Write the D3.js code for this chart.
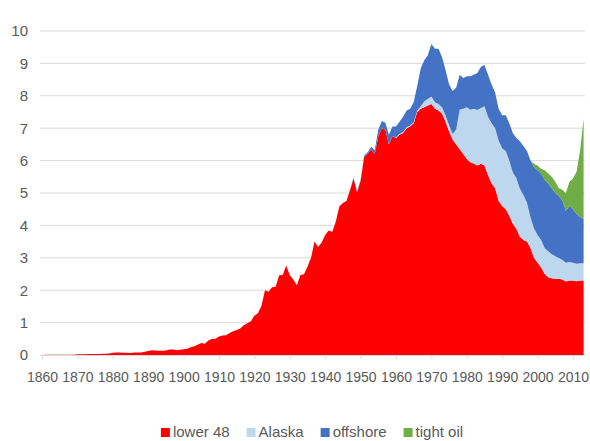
<!DOCTYPE html>
<meta charset="utf-8">
<body style="margin:0;background-color:white;">
<svg width="590" height="441"></svg>
<script src="https://cdn.jsdelivr.net/npm/d3@7"></script>
<script>

// US crude oil production by region, million barrels per day
var firstYear = 1860, lastYear = 2013;

var lower48 = [
  0.00,0.01,0.01,0.01,0.01,0.01,0.01,0.01,0.01,0.01,   // 1860s
  0.02,0.02,0.02,0.03,0.03,0.03,0.03,0.04,0.04,0.05,   // 1870s
  0.07,0.08,0.08,0.07,0.07,0.06,0.08,0.08,0.08,0.10,
  0.12,0.15,0.14,0.13,0.13,0.14,0.17,0.17,0.15,0.16,
  0.18,0.19,0.24,0.27,0.32,0.37,0.35,0.45,0.49,0.50,   // 1900s
  0.57,0.60,0.61,0.68,0.73,0.77,0.82,0.92,0.98,1.04,
  1.21,1.29,1.52,2.00,1.95,2.09,2.11,2.46,2.47,2.76,
  2.46,2.33,2.15,2.47,2.49,2.72,3.00,3.50,3.33,3.47,
  3.70,3.84,3.80,4.12,4.58,4.69,4.75,5.08,5.45,5.02,   // 1940s
  5.37,6.10,6.20,6.35,6.20,6.75,7.00,6.95,6.50,6.75,
  6.70,6.80,6.85,7.00,7.05,7.15,7.50,7.60,7.65,7.70,
  7.75,7.60,7.55,7.45,7.20,6.90,6.65,6.50,6.35,6.20,   // 1970s
  6.05,5.95,5.90,5.85,5.90,5.85,5.55,5.30,5.15,4.75,
  4.60,4.50,4.30,4.05,3.90,3.65,3.55,3.50,3.30,3.00,
  2.85,2.70,2.50,2.40,2.37,2.35,2.35,2.33,2.27,2.30,   // 2000s
  2.30,2.28,2.30,2.30
];

var alaskaStart = 1959;
var alaska = [
  0.00,0.01,0.02,0.03,0.03,0.03,0.03,0.04,0.08,0.18,
  0.20,0.23,0.20,0.20,0.20,0.19,0.19,0.17,0.46,1.23,
  1.40,1.60,1.62,1.70,1.71,1.72,1.83,1.80,1.85,1.85,
  1.87,1.77,1.80,1.71,1.58,1.56,1.48,1.39,1.20,0.95,
  0.90,0.85,0.85,0.80,0.80,0.74,0.70,0.64,0.60,0.58,
  0.57,0.55,0.54,0.53,0.53
];

var offshoreStart = 1947;
var offshore = [
  0.01,0.02,0.03,0.04,0.05,0.06,0.08,0.12,0.20,0.22,
  0.22,0.30,0.30,0.34,0.38,0.47,0.52,0.52,0.62,0.76,
  1.17,1.27,1.35,1.62,1.65,1.70,1.55,1.41,1.26,1.33,
  1.29,1.07,0.95,0.95,1.03,1.05,1.14,1.28,1.27,1.30,
  1.20,1.10,0.98,1.03,1.10,1.14,1.22,1.24,1.47,1.51,
  1.60,1.75,1.90,2.00,2.05,2.10,2.10,2.04,1.95,1.91,
  1.85,1.60,1.73,1.65,1.53,1.44,1.37
];

var tightOilStart = 1998;
var tightOil = [0.00,0.10,0.15,0.15,0.30,0.30,0.35,0.35,0.25,0.32,0.55,0.75,0.95,1.30,2.03,3.10];

var seriesKeys = ['lower48', 'alaska', 'offshore', 'tightOil'];
var seriesNames = ['lower 48', 'Alaska', 'offshore', 'tight oil'];
var seriesColors = ['#ff0000', '#bdd7ee', '#4472c4', '#70ad47'];
var seriesStarts = [firstYear, alaskaStart, offshoreStart, tightOilStart];

var yTicks = d3.range(0, 11);
var xTicks = d3.range(1860, 2011, 10);

// build the table for d3.stack
var table = d3.range(firstYear, lastYear + 1).map(function(yr, i) {
  function pick(arr, start) {
    var k = yr - start;
    return (k >= 0 && k < arr.length) ? arr[k] : 0;
  }
  return {
    year: yr,
    lower48: lower48[i],
    alaska: pick(alaska, alaskaStart),
    offshore: pick(offshore, offshoreStart),
    tightOil: pick(tightOil, tightOilStart)
  };
});

var svg = d3.select('svg');
var fontFam = '"Liberation Sans Narrow", "Liberation Sans", Arial, sans-serif';
var textGray = '#595959';

var plotLeft = 40, plotRight = 585, plotTop = 31, plotBottom = 355;

var x = d3.scaleLinear().domain([firstYear, lastYear]).range([42, 583.6]);
var y = d3.scaleLinear().domain([0, 10]).range([plotBottom, plotTop]);

// gridlines
svg.append('g')
  .selectAll('line')
  .data(yTicks.filter(function(t) { return t > 0; }))
  .enter().append('line')
  .attr('x1', plotLeft).attr('x2', plotRight)
  .attr('y1', function(d) { return y(d); })
  .attr('y2', function(d) { return y(d); })
  .attr('stroke', '#d9d9d9')
  .attr('stroke-width', 1);

// y labels
var yAxis = svg.append('g')
  .attr('transform', 'translate(' + plotLeft + ',0)')
  .call(d3.axisLeft(y).tickValues(yTicks).tickSize(0).tickPadding(12).tickFormat(d3.format('d')));
yAxis.select('.domain').remove();
yAxis.selectAll('text')
  .attr('fill', textGray)
  .style('font-family', fontFam)
  .style('font-size', '15px');

// x axis
var xAxis = svg.append('g')
  .attr('transform', 'translate(0,' + plotBottom + ')')
  .call(d3.axisBottom(x).tickValues(xTicks).tickSizeInner(4).tickSizeOuter(0).tickPadding(13).tickFormat(d3.format('d')));
xAxis.select('.domain')
  .attr('d', 'M' + plotLeft + ',0.5H' + plotRight)
  .attr('stroke', '#d9d9d9');
xAxis.selectAll('.tick line').attr('stroke', '#d9d9d9');
xAxis.selectAll('text')
  .attr('fill', textGray)
  .style('font-family', fontFam)
  .style('font-size', '14px');

// stacked areas
var stacked = d3.stack().keys(seriesKeys)(table);

var areas = svg.append('g');
stacked.forEach(function(layer, i) {
  var start = seriesStarts[i];
  var area = d3.area()
    .defined(function(d) { return d.data.year >= start - 1; })
    .x(function(d) { return x(d.data.year); })
    .y0(function(d) { return y(d[0]); })
    .y1(function(d) { return y(d[1]); });
  areas.append('path')
    .datum(layer)
    .attr('d', area)
    .attr('fill', seriesColors[i]);
});

// legend
var legend = svg.append('g');
var lx = 0;
seriesNames.forEach(function(name, i) {
  var item = legend.append('g').attr('transform', 'translate(' + lx + ',0)');
  item.append('rect')
    .attr('x', 0).attr('y', -9)
    .attr('width', 9).attr('height', 9)
    .attr('fill', seriesColors[i]);
  var t = item.append('text')
    .attr('x', 12).attr('y', 0)
    .attr('fill', textGray)
    .style('font-family', fontFam)
    .style('font-size', '15px')
    .text(name);
  lx += 12 + t.node().getComputedTextLength() + 17;
});
lx -= 17;
legend.attr('transform', 'translate(' + (312 - lx / 2) + ',437)');

</script>
</body>
